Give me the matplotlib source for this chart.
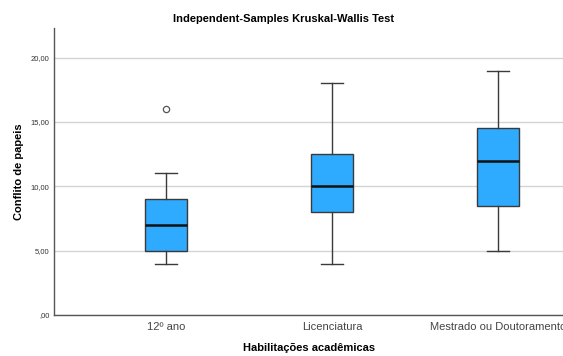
import matplotlib
matplotlib.use("Agg")
import matplotlib.pyplot as plt

plt.rcParams["font.family"] = ["Liberation Sans", "DejaVu Sans"]

groups = ["12º ano", "Licenciatura", "Mestrado ou Doutoramento"]
whis_low = [4.0, 4.0, 5.0]
q1 = [5.0, 8.0, 8.5]
median = [7.0, 10.0, 12.0]
q3 = [9.0, 12.5, 14.5]
whis_high = [11.0, 18.0, 19.0]
outliers = [[16.0], [], []]
yticks = [0, 5, 10, 15, 20]
ytick_labels = [",00", "5,00", "10,00", "15,00", "20,00"]

stats = []
for i, name in enumerate(groups):
    stats.append({
        "label": name,
        "whislo": whis_low[i],
        "q1": q1[i],
        "med": median[i],
        "q3": q3[i],
        "whishi": whis_high[i],
        "fliers": outliers[i],
    })

fig = plt.figure(figsize=(5.63, 3.56), dpi=100)
ax = fig.add_axes([0.0965, 0.1152, 0.9035, 0.806])

ax.bxp(
    stats,
    positions=[1, 2, 3],
    widths=0.253,
    patch_artist=True,
    showfliers=True,
    boxprops=dict(facecolor="#2EAAFF", edgecolor="#3a3a3a", linewidth=1.0),
    medianprops=dict(color="#111111", linewidth=1.8),
    whiskerprops=dict(color="#3a3a3a", linewidth=1.0),
    capprops=dict(color="#3a3a3a", linewidth=1.0),
    capwidths=0.133,
    flierprops=dict(marker="o", markerfacecolor="white", markeredgecolor="#555555",
                    markersize=4.5, markeredgewidth=0.9),
    zorder=3,
)

ax.set_xlim(0.33, 3.39)
ax.set_ylim(0, 22.3)
ax.set_yticks(yticks)
ax.set_yticklabels(ytick_labels, fontsize=5.5, color="#333333")
ax.set_xticks([1, 2, 3])
ax.set_xticklabels(groups, fontsize=8, color="#444444")
ax.tick_params(axis="y", length=0, pad=3.5)
ax.tick_params(axis="x", length=0, pad=5)
ax.yaxis.grid(True, color="#d4d4d4", linewidth=1.0, zorder=0)
ax.set_axisbelow(True)

for side in ["top", "right"]:
    ax.spines[side].set_visible(False)
for side in ["left", "bottom"]:
    ax.spines[side].set_color("#555555")
    ax.spines[side].set_linewidth(1.0)

ax.set_ylabel("Conflito de papeis", fontsize=8, fontweight="bold")
ax.yaxis.set_label_coords(-0.06, 0.5)
ax.set_xlabel("Habilitações acadêmicas", fontsize=8, fontweight="bold", labelpad=8)
fig.text(0.504, 0.946, "Independent-Samples Kruskal-Wallis Test", ha="center",
         va="center", fontsize=8, fontweight="bold")

fig.savefig("out.png", dpi=100)
